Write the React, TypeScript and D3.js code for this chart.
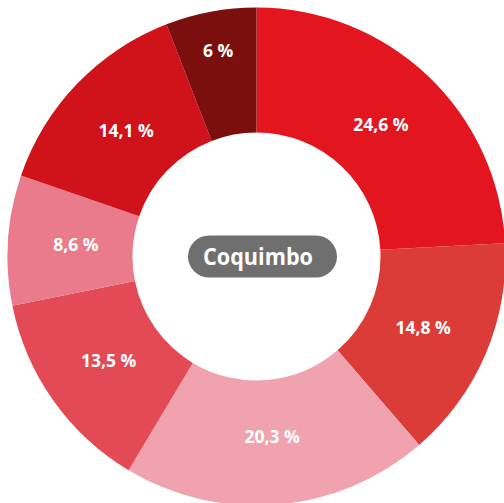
import React from "react";
import * as d3 from "d3";

const categories = ["A", "B", "C", "D", "E", "F", "G"];
const values = [24.6, 14.8, 20.3, 13.5, 8.6, 14.1, 6];
const labels = ["24,6 %", "14,8 %", "20,3 %", "13,5 %", "8,6 %", "14,1 %", "6 %"];
const colors = ["#e3151f", "#dc3c37", "#f0a3ae", "#e34a56", "#e97b8c", "#d0121a", "#7b0f0d"];
const centerTitle = "Coquimbo";

const W = 504;
const H = 503;
const cx = 256.5;
const cy = 256.5;
const rOuter = 249;
const rInner = 124;

export default function App() {
  const data = categories.map((c, i) => ({ c, v: values[i], label: labels[i], color: colors[i] }));
  const pie = d3.pie<any>().value((d: any) => d.v).sort(null);
  const arcs = pie(data);
  const arc = d3.arc<any>().innerRadius(rInner).outerRadius(rOuter);
  return (
    <svg
      width={W}
      height={H}
      style={{ position: "absolute", left: 0, top: 0, background: "#fff" }}
      fontFamily="'Open Sans', sans-serif"
    >
      <g transform={`translate(${cx},${cy})`}>
        {arcs.map((a, i) => (
          <path key={i} d={arc(a) || ""} fill={a.data.color} />
        ))}
        {arcs.map((a, i) => {
          const r = a.data.v < 7 ? 209 : 181;
          const lab = d3.arc<any>().innerRadius(r).outerRadius(r);
          const [x, y] = lab.centroid(a);
          return (
            <text
              key={"t" + i}
              x={x}
              y={y}
              dy="0.36em"
              textAnchor="middle"
              fill="#fff"
              fontWeight={700}
              fontSize={17.5}
            >
              {a.data.label}
            </text>
          );
        })}
        <rect x={-68.5} y={-21} width={149} height={42} rx={21} ry={21} fill="#6f6f6f" />
        <text
          x={1.5}
          y={0}
          dy="0.37em"
          textAnchor="middle"
          fill="#fff"
          fontWeight={700}
          fontSize={24}
          textLength={110}
          lengthAdjust="spacingAndGlyphs"
        >
          {centerTitle}
        </text>
      </g>
    </svg>
  );
}
